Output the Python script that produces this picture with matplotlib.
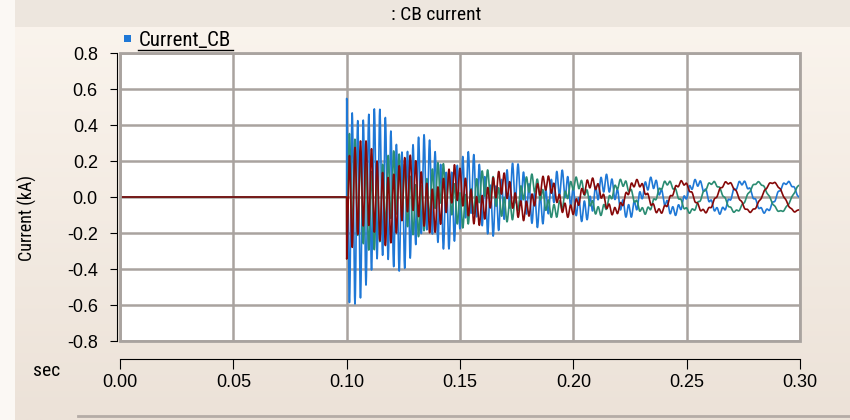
import numpy as np
import matplotlib
matplotlib.use("Agg")
import matplotlib.pyplot as plt
from matplotlib import font_manager
from matplotlib.patches import Rectangle
from matplotlib.lines import Line2D

# breaker current after the fault at t = 0.1 s (three traces of one signal)
trace_names = ["Ib", "Ic", "Ia"]            # blue, green, red (drawing order)
trace_colors = ["#1f78d6", "#2b8c72", "#860808"]
fault_time = 0.1                            # s
fund_freq = 50.0                            # Hz
fund_amp = [0.08, 0.08, 0.08]               # kA, steady 50 Hz peak
fund_peak_time = [0.2745, 0.2815, 0.268]    # s, time of a 50 Hz crest
hf_freq = 410.0                             # Hz, breaker ringing
hf_amp = [0.56, -0.28, -0.28]               # kA, ringing amplitude at the fault
hf_tau = 0.046                              # s, ringing decay

x_ticks = [0.00, 0.05, 0.10, 0.15, 0.20, 0.25, 0.30]
y_ticks = [-0.8, -0.6, -0.4, -0.2, 0.0, 0.2, 0.4, 0.6, 0.8]

t = np.arange(0.0, 0.3 + 1e-9, 2e-5)

# pick a condensed face for the captions
fonts = font_manager.fontManager.ttflist
names = {f.name for f in fonts}
narrow = dict(family="DejaVu Sans", fontstretch="condensed")
for cand in ["Liberation Sans Narrow", "Roboto Condensed", "DejaVu Sans Condensed",
             "Open Sans Condensed"]:
    if cand in names:
        narrow = dict(family=cand)
        break

plt.rcParams["font.family"] = ["Liberation Sans", "DejaVu Sans"]
plt.rcParams["axes.unicode_minus"] = False

W, H = 850, 420
fig = plt.figure(figsize=(W / 100, H / 100), dpi=100)

# panel background: light beige fading darker towards the bottom
bg = fig.add_axes([0, 0, 1, 1], zorder=-10)
grad = np.linspace(0, 1, 256)[:, None]
top = np.array([251, 245, 238]) / 255
bot = np.array([236, 226, 216]) / 255
img = top + (bot - top) * grad[..., None]
bg.imshow(img, aspect="auto", extent=[0, 1, 0, 1])
bg.add_patch(Rectangle((15 / W, 1 - 27 / H), 1, 27 / H, color="#ede6de", lw=0))
bg.add_patch(Rectangle((0, 0), 15 / W, 1, color="#fbf8f4", lw=0))
bg.plot([78 / W, 1], [4 / H, 4 / H], color="#b4aca6", lw=2)
bg.set_xlim(0, 1)
bg.set_ylim(0, 1)
bg.axis("off")

ax = fig.add_axes([120 / W, (H - 341) / H, 680 / W, 288 / H])
ax.set_facecolor("white")

for name, col, a50, tp, ahf in zip(trace_names, trace_colors, fund_amp,
                                   fund_peak_time, hf_amp):
    dt = t - fault_time
    cur = a50 * np.cos(2 * np.pi * fund_freq * (t - tp)) \
        + ahf * np.exp(-dt / hf_tau) * np.cos(2 * np.pi * hf_freq * dt)
    cur[t < fault_time] = 0.0
    ax.plot(t, cur, color=col, lw=1.2, label=name)

ax.set_xlim(0, 0.3)
ax.set_ylim(-0.8, 0.8)
ax.set_xticks(x_ticks)
ax.set_yticks(y_ticks)
ax.set_xticklabels([f"{v:.2f}" for v in x_ticks])
ax.set_yticklabels([f"{v:.1f}" for v in y_ticks])
ax.grid(True, color="#a9a39f", lw=1.8)
ax.set_axisbelow(True)

for s in ["top", "right"]:
    ax.spines[s].set_visible(False)
ax.add_patch(Rectangle((0, 0), 1, 1, transform=ax.transAxes, fill=False,
                       ec="#a9a39f", lw=2, zorder=5, clip_on=False))
ax.spines["left"].set_position(("outward", 2))
ax.spines["left"].set_color("black")
ax.spines["bottom"].set_position(("outward", 13))
ax.spines["bottom"].set_color("black")
ax.tick_params(axis="y", direction="out", length=5, pad=9, labelsize=13, color="black")
ax.tick_params(axis="x", direction="out", length=7, pad=4, labelsize=13, color="black")

fig.text(27 / W, 1 - 218 / H, "Current (kA)", fontsize=13, rotation=90,
         ha="center", va="center", **narrow)
fig.text(436 / W, 1 - 15 / H, ": CB current", fontsize=14,
         ha="center", va="center", **narrow)
fig.text(47 / W, 1 - 371 / H, "sec", fontsize=14,
         ha="center", va="center", **narrow)

# legend entry: blue square and underlined name
fig.add_artist(Rectangle((124 / W, 1 - 42 / H), 7 / W, 7 / H, color=trace_colors[0], lw=0))
fig.text(139 / W, 1 - 40 / H, "Current_CB", fontsize=15,
         ha="left", va="center", **narrow)
fig.add_artist(Line2D([138 / W, 233 / W], [1 - 50 / H, 1 - 50 / H], color="black", lw=1))

fig.savefig("out.png", dpi=100, facecolor=fig.get_facecolor())
